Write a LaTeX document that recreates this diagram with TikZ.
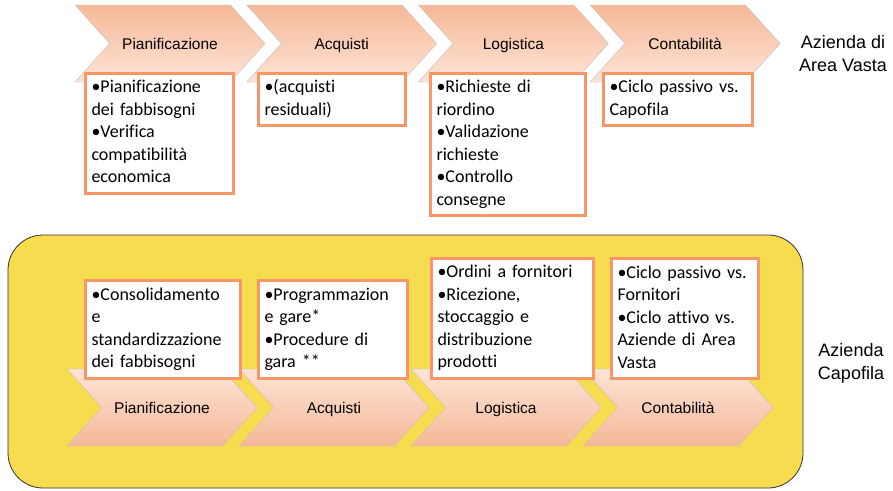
\documentclass[tikz,border=0pt]{standalone}
\usepackage{fontspec}
\setmainfont{Carlito}[Ligatures=NoCommon]
\newfontfamily\arialfont{Liberation Sans}
\usetikzlibrary{shapes.symbols,positioning}
\definecolor{boxorange}{RGB}{247,150,102}
\definecolor{peachlight}{RGB}{253,228,214}
\definecolor{peachdark}{RGB}{246,184,152}
\definecolor{capofilayellow}{RGB}{248,220,80}
\tikzset{
    phase/.style={signal, signal from=west, signal to=east, signal pointer angle=96,
        minimum width=190pt, minimum height=77pt, inner sep=0pt,
        text height=11pt, text depth=0pt,
        draw=black!25, thin, font=\arialfont\fontsize{15.5}{18}\selectfont},
    phase top/.style={phase, top color=peachdark, bottom color=peachlight},
    phase bottom/.style={phase, top color=peachlight, bottom color=peachdark},
    infobox/.style={draw=boxorange, line width=3pt, fill=white, align=left,
        text width=#1, inner xsep=6.5pt, inner ysep=3.75pt,
        font=\fontsize{18}{22.5}\selectfont,
        execute at begin node=\strut, execute at end node=\strut},
    azienda/.style={align=center, font=\arialfont\fontsize{18}{23}\selectfont},
}

\begin{document}
\begin{tikzpicture}[x=1pt,y=-1pt]
    \useasboundingbox (0,0) rectangle (893,490);

    % fondo capofila
    \draw[fill=capofilayellow, draw=black!80, thick, rounded corners=35pt] (8,235) rectangle (803,488);

    % fasi
    \foreach \name/\label [count=\i from 0] in {pian/Pianificazione, acq/Acquisti, log/Logistica, cont/Contabilità} {
        \node[phase top] (t\name) at (170+171.7*\i, 43.5) {\label};
        \node[phase bottom] (b\name) at (162+172*\i, 407.5) {\label};
    }

    % Azienda di Area Vasta
    \node[infobox=135pt, anchor=north west] (tpianbox) at (83.5,71.5)
        {\textbullet Pianificazione\\dei fabbisogni\\\textbullet Verifica\\compatibilità\\economica};
    \node[infobox=134pt, anchor=north west] (tacqbox) at (256.5,71.5)
        {\textbullet(acquisti\\residuali)};
    \node[infobox=142pt, anchor=north west] (tlogbox) at (428.5,71.5)
        {\textbullet Richieste di\\riordino\\\textbullet Validazione\\richieste\\\textbullet Controllo\\consegne};
    \node[infobox=136pt, anchor=north west] (tcontbox) at (601.5,71.5)
        {\textbullet Ciclo passivo vs.\\Capofila};

    % Azienda Capofila
    \node[infobox=142pt, anchor=south west] (bpianbox) at (83.5,379.5)
        {\textbullet Consolidamento\\e\\standardizzazione\\dei fabbisogni};
    \node[infobox=136pt, anchor=south west] (bacqbox) at (256.5,379.5)
        {\textbullet Programmazion\\e gare*\\\textbullet Procedure di\\gara **};
    \node[infobox=149pt, anchor=south west] (blogbox) at (429.5,379.5)
        {\textbullet Ordini a fornitori\\\textbullet Ricezione,\\stoccaggio e\\distribuzione\\prodotti};
    \node[infobox=134pt, anchor=south west] (bcontbox) at (609.5,380)
        {\textbullet Ciclo passivo vs.\\Fornitori\\\textbullet Ciclo attivo vs.\\Aziende di Area\\Vasta};

    \node[azienda] (avasta) at (843,53.5) {Azienda di\\Area Vasta};
    \node[azienda] (capofila) at (851,363) {Azienda\\Capofila};
\end{tikzpicture}
\end{document}
